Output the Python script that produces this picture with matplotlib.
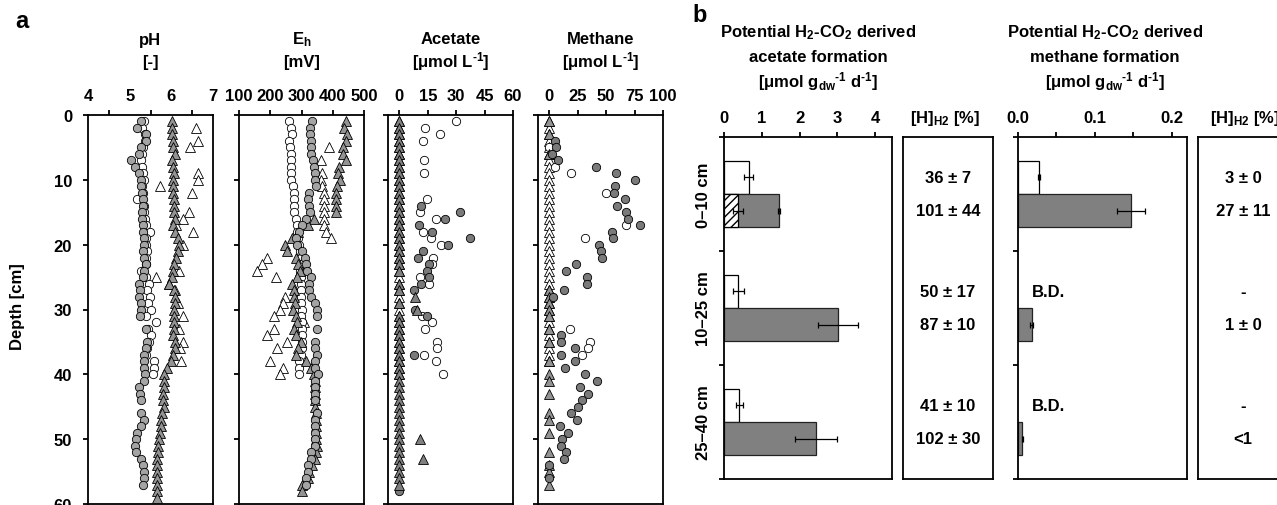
import numpy as np
import matplotlib
matplotlib.use("Agg")
import matplotlib.pyplot as plt

plt.rcParams.update({
    "font.family": ["Liberation Sans", "DejaVu Sans"],
    "font.weight": "bold",
    "font.size": 12,
    "mathtext.fontset": "custom",
    "mathtext.rm": "Liberation Sans:bold",
    "mathtext.it": "Liberation Sans:bold",
    "mathtext.bf": "Liberation Sans:bold",
    "mathtext.default": "bf",
    "hatch.linewidth": 1.0,
})

# ---------------- panel a: depth profiles ----------------
DEPTH_TICKS = [0, 10, 20, 30, 40, 50, 60]

# pH
PH_GC_D = [1, 2, 3, 4, 5, 6, 7, 8, 9, 10, 11, 12, 13, 14, 15, 16, 17, 18, 19, 20,
           21, 22, 23, 24, 25, 26, 27, 28, 29, 30, 31, 33, 35, 36, 37, 38, 39, 40,
           41, 42, 43, 44, 46, 47, 48, 49, 50, 51, 52, 53, 54, 55, 56, 57]
PH_GC = [5.26, 5.18, 5.38, 5.38, 5.26, 5.22, 5.04, 5.14, 5.22, 5.26,
         5.27, 5.30, 5.32, 5.32, 5.30, 5.30, 5.32, 5.32, 5.34, 5.34,
         5.32, 5.34, 5.40, 5.34, 5.32, 5.22, 5.24, 5.22, 5.27, 5.26,
         5.24, 5.40, 5.42, 5.40, 5.34, 5.35, 5.35, 5.37, 5.35, 5.22,
         5.24, 5.26, 5.26, 5.35, 5.26, 5.18, 5.16, 5.14, 5.16, 5.26,
         5.32, 5.35, 5.34, 5.32]
PH_WC_D = [1, 2, 3, 4, 5, 6, 7, 8, 9, 10, 11, 12, 13, 14, 15, 16, 17, 18, 19, 20,
           21, 22, 23, 24, 25, 26, 27, 28, 29, 30, 31, 32, 33, 34, 35, 36, 37, 38, 39, 40]
PH_WC = [5.34, 5.30, 5.36, 5.36, 5.32, 5.30, 5.28, 5.30, 5.32, 5.34,
         5.30, 5.32, 5.18, 5.34, 5.34, 5.36, 5.38, 5.48, 5.40, 5.40,
         5.42, 5.40, 5.38, 5.26, 5.40, 5.46, 5.42, 5.48, 5.44, 5.50,
         5.40, 5.62, 5.44, 5.50, 5.46, 5.42, 5.40, 5.58, 5.58, 5.56]
PH_GT_D = [1, 2, 3, 4, 5, 6, 7, 8, 9, 10, 11, 12, 13, 14, 15, 16, 17, 18, 19, 20,
           21, 22, 23, 24, 25, 26, 27, 28, 29, 30, 31, 32, 33, 34, 35, 36, 37, 38, 39, 40,
           41, 42, 43, 44, 45, 46, 47, 48, 49, 50, 51, 52, 53, 54, 55, 56, 57, 58, 59]
PH_GT = [6.02, 6.02, 6.02, 6.05, 6.04, 6.10, 6.02, 6.05, 6.06, 6.05,
         6.04, 6.05, 6.06, 6.06, 6.06, 6.08, 6.05, 6.10, 6.15, 6.19,
         6.15, 6.12, 6.06, 6.05, 6.02, 5.94, 6.06, 6.08, 6.08, 6.06,
         6.06, 6.06, 6.06, 6.05, 6.08, 6.10, 6.05, 5.98, 5.90, 5.82,
         5.82, 5.82, 5.81, 5.81, 5.82, 5.78, 5.76, 5.74, 5.73, 5.70,
         5.68, 5.68, 5.66, 5.66, 5.66, 5.66, 5.66, 5.65, 5.65]
PH_WT_D = [2, 4, 5, 9, 10, 11, 12, 15, 16, 17, 18, 20, 24, 25, 26, 27, 29, 31, 33, 35, 36, 38]
PH_WT = [6.59, 6.63, 6.45, 6.63, 6.65, 5.73, 6.50, 6.43, 6.27, 6.12, 6.53,
         6.27, 6.19, 5.62, 5.95, 6.10, 6.15, 6.27, 6.19, 6.27, 6.20, 6.23]

# Eh [mV]
EH_GC_D = PH_GC_D
EH_GC = [334, 327, 327, 329, 329, 331, 338, 340, 342, 342,
         345, 324, 320, 324, 327, 313, 302, 291, 281, 284,
         302, 310, 313, 318, 329, 324, 324, 331, 342, 351,
         351, 351, 342, 342, 351, 342, 342, 353, 342, 342,
         342, 342, 351, 342, 342, 342, 342, 342, 331, 329,
         320, 320, 313, 313]
EH_WC_D = PH_WC_D
EH_WC = [259, 265, 268, 259, 262, 267, 267, 265, 267, 267,
         273, 275, 277, 277, 275, 281, 284, 286, 288, 291,
         295, 297, 297, 295, 297, 297, 299, 297, 299, 302,
         299, 302, 302, 302, 302, 302, 297, 291, 291, 291]
EH_GT_D = PH_GT_D[:58]
EH_GT = [442, 437, 445, 442, 434, 434, 442, 420, 417, 424,
         415, 410, 410, 410, 410, 340, 320, 290, 270, 248,
         255, 281, 290, 295, 285, 270, 275, 277, 280, 273,
         281, 287, 277, 281, 297, 290, 281, 315, 329, 340,
         342, 342, 342, 342, 342, 345, 345, 345, 345, 345,
         351, 345, 342, 334, 324, 320, 302, 302]
EH_WT_D = [5, 7, 9, 10, 11, 12, 13, 14, 15, 16, 17, 18, 19, 22, 23, 24, 25,
           28, 29, 30, 31, 32, 33, 34, 35, 36, 38, 39, 40]
EH_WT = [388, 361, 367, 361, 367, 372, 372, 372, 372, 372, 372, 377, 394,
         189, 173, 159, 219, 248, 241, 232, 211, 307, 211, 191, 252, 222, 200, 241, 230]

# Acetate [umol/L]
AC_GC_D = [14, 15, 16, 17, 18, 19, 20, 21, 22, 23, 24, 25, 26, 27, 30, 31, 37, 58]
AC_GC = [11.3, 31.8, 24.2, 10.6, 17.1, 37.1, 25.9, 12.4, 10.0, 15.4,
         14.8, 15.9, 11.3, 7.8, 8.3, 14.5, 7.8, 0.0]
AC_WC_D = [1, 2, 3, 4, 7, 9, 13, 15, 16, 18, 19, 20, 22, 23, 25, 26, 31, 32, 33, 35, 36, 37, 38, 40]
AC_WC = [30.0, 13.6, 21.5, 12.4, 13.1, 13.1, 14.8, 10.9, 19.4, 12.7,
         16.6, 21.9, 18.0, 17.1, 10.9, 15.4, 11.8, 17.1, 13.6, 19.8,
         19.8, 13.1, 19.4, 23.3]
AC_GT_D = [1, 2, 3, 4, 5, 6, 7, 8, 9, 10, 11, 12, 13, 14, 15, 16, 17, 18, 19, 20,
           21, 22, 23, 24, 26, 27, 28, 29, 30, 31, 32, 33, 34, 35, 36, 37, 38, 39, 40,
           41, 42, 43, 44, 45, 46, 47, 48, 49, 50, 51, 52, 53, 54, 55, 56, 57, 50, 53]
AC_GT = [0, 0, 0, 0, 0, 0, 0, 0, 0, 0, 0, 0, 0, 0, 0, 0, 0, 0, 0, 0,
         0, 0, 0, 0, 0, 0, 8.3, 0, 9.2, 0, 0, 0, 0, 0, 0, 0, 0, 0, 0,
         0, 0, 0, 0, 0, 0, 0, 0, 0, 0, 0, 0, 0, 0, 0, 0, 0, 10.9, 12.4]
AC_WT_D = PH_WC_D
AC_WT = [0, 0, 0, 0, 0, 0, 0, 0, 0, 0, 0, 0, 0, 0, 0, 0, 0, 0, 0, 0,
         0, 0, 0, 0, 0, 0, 0, 0, 0, 0, 0, 0, 0, 0, 0, 0, 0, 0, 0, 0]

# Methane [umol/L]
ME_GC_D = [4, 5, 6, 7, 8, 9, 10, 11, 12, 13, 14, 15, 16, 17, 18, 19, 20, 21, 22, 23,
           24, 25, 26, 27, 28, 34, 35, 36, 37, 38, 39, 40, 41, 42, 43, 44, 45, 46, 47,
           48, 49, 50, 51, 52, 53, 54, 56]
ME_GC = [5.0, 5.8, 2.0, 7.9, 40.9, 59.0, 75.1, 57.6, 56.7, 66.4,
         59.6, 67.3, 69.3, 80.1, 54.7, 55.6, 43.9, 45.0, 45.9, 23.4,
         14.6, 32.7, 32.7, 12.9, 3.5, 9.9, 9.9, 22.5, 9.9, 22.5,
         13.7, 31.3, 42.1, 26.9, 34.2, 28.4, 25.4, 18.7, 24.6, 9.4,
         16.7, 10.8, 9.9, 14.6, 12.9, 0.0, 0.0]
ME_WC_D = [5, 8, 9, 12, 17, 19, 33, 35, 36, 37]
ME_WC = [0.0, 5.0, 18.7, 49.7, 67.3, 31.3, 18.1, 35.7, 34.2, 28.4]
ME_GT_D = [1, 3, 6, 27, 28, 29, 30, 31, 33, 35, 38, 40, 41, 43, 46, 47, 49, 52, 54, 55, 57]
ME_GT = [0, 0, 0, 0, 0, 0, 0, 0, 0, 0, 0, 0, 0, 0, 0, 0, 0, 0, 0, 0, 0]
ME_WT_D = PH_WC_D[:38]
ME_WT = [0, 0, 0, 0, 0, 0, 0, 0, 0, 0, 0, 0, 0, 0, 0, 0, 0, 0, 0, 0,
         0, 0, 0, 0, 0, 0, 0, 0, 0, 0, 0, 0, 0, 0, 0, 0, 0, 0]

# ---------------- panel b: potential formation ----------------
GROUPS = ["0–10 cm", "10–25 cm", "25–40 cm"]
ACET_CTRL = [0.65, 0.38, 0.41]
ACET_CTRL_ERR = [0.13, 0.14, 0.09]
ACET_H2 = [1.46, 3.03, 2.44]
ACET_H2_ERR = [0.02, 0.53, 0.55]
ACET_HATCH = [0.38]
ACET_HATCH_ERR = [0.13]
METH_CTRL = [0.027, np.nan, np.nan]
METH_CTRL_ERR = [0.001, np.nan, np.nan]
METH_H2 = [0.147, 0.018, 0.0055]
METH_H2_ERR = [0.018, 0.002, 0.0008]
HH2_ACET_CTRL = ["36 ± 7", "50 ± 17", "41 ± 10"]
HH2_ACET_H2 = ["101 ± 44", "87 ± 10", "102 ± 30"]
HH2_METH_CTRL = ["3 ± 0", "-", "-"]
HH2_METH_H2 = ["27 ± 11", "1 ± 0", "<1"]

# ---------------- drawing ----------------
W, H = 1277, 506
fig = plt.figure(figsize=(W / 100, H / 100), dpi=100)

LIGHT = "#a4a4a4"
MID = "#939393"
DARK = "#7a7a7a"
BAR = "#808080"


def add_ax(l, t, r, b):
    return fig.add_axes([l / W, 1 - b / H, (r - l) / W, (b - t) / H])


def ftext(x, y, s, **kw):
    kw.setdefault("ha", "center")
    kw.setdefault("va", "center")
    fig.text(x / W, 1 - y / H, s, **kw)


def frame(ax):
    for sp in ax.spines.values():
        sp.set_linewidth(1.3)
    ax.tick_params(which="both", direction="out", width=1.3, length=3.5,
                   labelsize=12)


INV = r"$^{\text{-1}}$"

profiles = [
    dict(left=88, xlim=(4, 7), ticks=[4, 5, 6, 7], marks=[4.5, 5.5, 6.5],
         title=("pH", "[-]"), circ=LIGHT, tri=MID,
         data=[(PH_WT_D, PH_WT, PH_WC_D, PH_WC, PH_GT_D, PH_GT, PH_GC_D, PH_GC)]),
    dict(left=239, xlim=(100, 500), ticks=[100, 200, 300, 400, 500], marks=None,
         title=(r"E$_{h}$", "[mV]"), circ=LIGHT, tri=MID,
         data=[(EH_WT_D, EH_WT, EH_WC_D, EH_WC, EH_GT_D, EH_GT, EH_GC_D, EH_GC)]),
    dict(left=388, xlim=(-6, 60), ticks=[0, 15, 30, 45, 60], marks=None,
         title=("Acetate", "[μmol L" + INV + "]"), circ=DARK, tri=BAR,
         data=[(AC_WT_D, AC_WT, AC_WC_D, AC_WC, AC_GT_D, AC_GT, AC_GC_D, AC_GC)]),
    dict(left=538, xlim=(-10, 100), ticks=[0, 25, 50, 75, 100], marks=None,
         title=("Methane", "[μmol L" + INV + "]"), circ=DARK, tri=MID,
         data=[(ME_WT_D, ME_WT, ME_WC_D, ME_WC, ME_GT_D, ME_GT, ME_GC_D, ME_GC)]),
]

for i, p in enumerate(profiles):
    ax = add_ax(p["left"], 116, p["left"] + 125, 505)
    frame(ax)
    ax.set_xlim(*p["xlim"])
    ax.set_ylim(60, 0)
    ax.xaxis.tick_top()
    ax.set_xticks(p["ticks"], [str(t) for t in p["ticks"]])
    ax.tick_params(axis="x", which="major", pad=5)
    if p["marks"] is not None:
        ax.set_xticks(p["marks"], minor=True)
        ax.tick_params(axis="x", which="major", length=0, pad=8.5)
    ax.set_yticks(DEPTH_TICKS)
    ax.tick_params(axis="y", pad=8)
    if i > 0:
        ax.set_yticklabels([])
    wtd, wt, wcd, wc, gtd, gt, gcd, gc = p["data"][0]
    layers = [(wtd, wt, "^", "white", 3), (wcd, wc, "o", "white", 4),
              (gtd, gt, "^", p["tri"], 5), (gcd, gc, "o", p["circ"], 6)]
    if i == 2:
        layers = [(wcd, wc, "o", "white", 3), (gcd, gc, "o", p["circ"], 4),
                  (wtd, wt, "^", "white", 5), (gtd, gt, "^", p["tri"], 6)]
    for d, v, m, fc, z in layers:
        ax.plot(v, d, ls="none", marker=m, ms=6.0 if m == "o" else 6.6,
                mfc=fc, mec="black", mew=0.6, zorder=z)
    cx = p["left"] + 62.5
    ftext(cx, 40, p["title"][0], fontsize=12)
    ftext(cx, 62, p["title"][1], fontsize=12)

ftext(22, 22, "a", fontsize=17)
ftext(18, 307, "Depth [cm]", rotation=90, fontsize=12)

# ---- panel b ----
ya = np.arange(len(GROUPS))
y_ctrl = ya + 0.355
y_h2 = ya + 0.645
bh = 0.29
err_kw = dict(fmt="none", ecolor="black", elinewidth=0.9, capsize=2.5,
              capthick=0.9, zorder=5)


def bar_axes(l, r, xlim, ticks, ticklabels, marks):
    ax = add_ax(l, 138, r, 480)
    frame(ax)
    ax.set_xlim(*xlim)
    ax.set_ylim(3, 0)
    ax.xaxis.tick_top()
    ax.set_xticks(ticks, ticklabels)
    if marks is not None:
        ax.set_xticks(marks, minor=True)
    ax.tick_params(axis="x", pad=5)
    ax.set_yticks([0, 1, 2, 3], [])
    return ax


axa = bar_axes(724, 892, (0, 4.45), [0, 1, 2, 3, 4], ["0", "1", "2", "3", "4"], None)
axa.set_yticks(ya + 0.5, GROUPS, minor=True, rotation=90, va="center")
axa.tick_params(axis="y", which="minor", length=0, pad=9)
axa.barh(y_ctrl, ACET_CTRL, height=bh, color="white", edgecolor="black", lw=0.9, zorder=2)
axa.errorbar(ACET_CTRL, y_ctrl, xerr=ACET_CTRL_ERR, **err_kw)
axa.barh(y_h2, ACET_H2, height=bh, color=BAR, edgecolor="#222222", lw=0.9, zorder=2)
axa.errorbar(ACET_H2, y_h2, xerr=ACET_H2_ERR, **err_kw)
axa.barh(y_h2[:1], ACET_HATCH, height=bh, facecolor="white", edgecolor="black",
         hatch="////", lw=0.9, zorder=3)
axa.errorbar(ACET_HATCH, y_h2[:1], xerr=ACET_HATCH_ERR, **err_kw)

axm = bar_axes(1018, 1187, (0, 0.22), [0, 0.1, 0.2], ["0.0", "0.1", "0.2"], [0.05, 0.15])
axm.barh(y_ctrl, METH_CTRL, height=bh, color="white", edgecolor="black", lw=0.9, zorder=2)
axm.errorbar(METH_CTRL, y_ctrl, xerr=METH_CTRL_ERR, **err_kw)
axm.barh(y_h2, METH_H2, height=bh, color=BAR, edgecolor="#222222", lw=0.9, zorder=2)
axm.errorbar(METH_H2, y_h2, xerr=METH_H2_ERR, **err_kw)
for yc, v in zip(y_ctrl, METH_CTRL):
    if np.isnan(v):
        axm.text(0.018, yc, "B.D.", ha="left", va="center", fontsize=12)

for l, r, ctrl, h2, hx in [(903, 993, HH2_ACET_CTRL, HH2_ACET_H2, 945),
                            (1198, 1288, HH2_METH_CTRL, HH2_METH_H2, 1245)]:
    axt = add_ax(l, 138, r, 480)
    frame(axt)
    axt.set_xlim(0, 1)
    axt.set_ylim(3, 0)
    axt.set_xticks([])
    axt.set_yticks([])
    for yc, yh, sc, sh in zip(y_ctrl, y_h2, ctrl, h2):
        axt.text(0.5, yc, sc, ha="center", va="center", fontsize=12)
        axt.text(0.5, yh, sh, ha="center", va="center", fontsize=12)
    ftext(hx, 118, r"[H]$_{H2}$ [%]", fontsize=12)

for cx, word in [(818, "acetate formation"), (1105, "methane formation")]:
    ftext(cx, 33, r"Potential H$_{2}$-CO$_{2}$ derived", fontsize=12)
    ftext(cx, 58, word, fontsize=12)
    ftext(cx, 82, r"[μmol g$_{dw}{}$" + INV + " d" + INV + "]", fontsize=12)

ftext(700, 16, "b", fontsize=17)

fig.savefig("out.png", dpi=100)
plt.close(fig)
